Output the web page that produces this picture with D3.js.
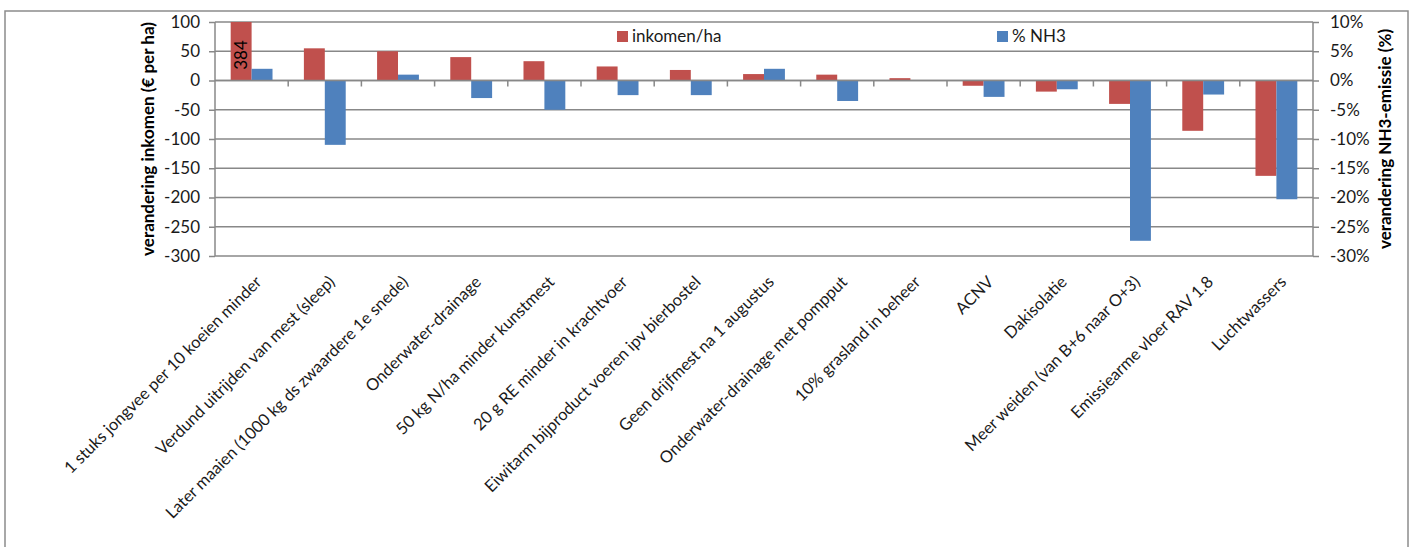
<!DOCTYPE html>
<html>
<head>
<meta charset="utf-8">
<script src="https://cdn.jsdelivr.net/npm/d3@7"></script>
<style>
  html, body { margin: 0; padding: 0; background: #fff; }
  svg { display: block; font-family: Lato, "Open Sans", sans-serif; }
</style>
</head>
<body>
<svg id="chart" width="1414" height="547"></svg>
<script>
// Maatregelen (categories on the x axis)
const categories = [
  "1 stuks jongvee per 10 koeien minder",
  "Verdund uitrijden van mest (sleep)",
  "Later maaien (1000 kg ds zwaardere 1e snede)",
  "Onderwater-drainage",
  "50 kg N/ha minder kunstmest",
  "20 g RE minder in krachtvoer",
  "Eiwitarm bijproduct voeren ipv bierbostel",
  "Geen drijfmest na 1 augustus",
  "Onderwater-drainage met pompput",
  "10% grasland in beheer",
  "ACNV",
  "Dakisolatie",
  "Meer weiden (van B+6 naar O+3)",
  "Emissiearme vloer RAV 1.8",
  "Luchtwassers"
];

// Verandering inkomen (€ per ha), left axis
const inkomen = [384, 55, 50, 40, 33, 24, 18, 11, 10, 4, -9, -19, -40, -86, -163];

// Verandering NH3-emissie (fraction), right axis
const nh3 = [0.02, -0.11, 0.01, -0.03, -0.05, -0.025, -0.025, 0.02, -0.035, 0, -0.028, -0.015, -0.274, -0.024, -0.203];

const leftTicks = [100, 50, 0, -50, -100, -150, -200, -250, -300];
const rightTicks = [0.10, 0.05, 0, -0.05, -0.10, -0.15, -0.20, -0.25, -0.30];

const seriesNames = ["inkomen/ha", "% NH3"];
const colors = ["#C0504D", "#4F81BD"];

const svg = d3.select("#chart");
const plot = { left: 215, right: 1313, top: 22, bottom: 256 };
const gridColor = "#888888";

// Outer chart frame
svg.append("rect")
  .attr("x", 5).attr("y", 11)
  .attr("width", 1403).attr("height", 560)
  .attr("fill", "none").attr("stroke", "#8c8c8c").attr("stroke-width", 1.5);

const x = d3.scaleBand().domain(categories).range([plot.left, plot.right]).padding(0);
const yL = d3.scaleLinear().domain([-300, 100]).range([plot.bottom, plot.top]).clamp(true);
const yR = d3.scaleLinear().domain([-0.30, 0.10]).range([plot.bottom, plot.top]).clamp(true);

const barW = x.bandwidth() / 3.5;

// Horizontal gridlines
svg.append("g").selectAll("line").data(leftTicks).join("line")
  .attr("x1", plot.left).attr("x2", plot.right)
  .attr("y1", d => yL(d)).attr("y2", d => yL(d))
  .attr("stroke", gridColor).attr("stroke-width", 1.5);

// Bars: inkomen
svg.append("g").selectAll("rect").data(inkomen).join("rect")
  .attr("x", (d, i) => x(categories[i]) + x.bandwidth() / 2 - barW)
  .attr("width", barW)
  .attr("y", d => Math.min(yL(d), yL(0)))
  .attr("height", d => Math.abs(yL(d) - yL(0)))
  .attr("fill", colors[0]);

// Bars: NH3
svg.append("g").selectAll("rect").data(nh3).join("rect")
  .attr("x", (d, i) => x(categories[i]) + x.bandwidth() / 2)
  .attr("width", barW)
  .attr("y", d => Math.min(yR(d), yR(0)))
  .attr("height", d => Math.abs(yR(d) - yR(0)))
  .attr("fill", colors[1]);

// Value label on the bar that runs off the top of the axis
svg.append("g").selectAll("text")
  .data(inkomen.map((v, i) => ({ v, i })).filter(d => d.v > 100))
  .join("text")
  .attr("transform", d => `translate(${x(categories[d.i]) + x.bandwidth() / 2 - barW / 2 + 6},${55}) rotate(-90)`)
  .attr("text-anchor", "middle")
  .attr("font-size", 17)
  .attr("fill", "#000")
  .text(d => d.v);

// Left axis
const axL = svg.append("g").attr("transform", `translate(${plot.left},0)`)
  .call(d3.axisLeft(yL).tickValues(leftTicks).tickSize(6).tickPadding(9).tickFormat(d3.format("d")));
// Right axis
const axR = svg.append("g").attr("transform", `translate(${plot.right},0)`)
  .call(d3.axisRight(yR).tickValues(rightTicks).tickSize(6).tickPadding(11).tickFormat(d3.format(".0%")));
[axL, axR].forEach(a => {
  a.select(".domain").attr("stroke", gridColor).attr("stroke-width", 1.5).attr("d",
    `M0,${plot.top}V${plot.bottom}`);
  a.selectAll(".tick line").attr("stroke", gridColor).attr("stroke-width", 1.5);
  a.selectAll(".tick text").attr("font-size", 17).attr("fill", "#1a1a1a")
    .attr("font-family", "Lato, 'Open Sans', sans-serif");
});
axL.selectAll(".tick text").text(d => d3.format("d")(d).replace("−", "-"));
axR.selectAll(".tick text").text(d => d3.format(".0%")(d).replace("−", "-"));

// Category axis on the zero line with boundary tick marks
const zeroY = yL(0);
svg.append("line")
  .attr("x1", plot.left).attr("x2", plot.right)
  .attr("y1", zeroY).attr("y2", zeroY)
  .attr("stroke", gridColor).attr("stroke-width", 1.5);
const boundaries = categories.slice(1).map(c => x(c));
svg.append("g").selectAll("line").data(boundaries).join("line")
  .attr("x1", d => d).attr("x2", d => d)
  .attr("y1", zeroY).attr("y2", zeroY + 6)
  .attr("stroke", gridColor).attr("stroke-width", 1.5);

// Category labels, rotated 45 degrees
svg.append("g").selectAll("text").data(categories).join("text")
  .attr("transform", d => `translate(${x(d) + x.bandwidth() / 2 + 11},${283}) rotate(-45)`)
  .attr("text-anchor", "end")
  .attr("font-size", 16.5)
  .attr("fill", "#1a1a1a")
  .text(d => d);

// Axis titles
svg.append("text")
  .attr("transform", `translate(154,${(plot.top + plot.bottom) / 2}) rotate(-90)`)
  .attr("text-anchor", "middle")
  .attr("font-size", 17).attr("font-weight", "bold").attr("fill", "#000")
  .text("verandering inkomen (€ per ha)");
svg.append("text")
  .attr("transform", `translate(1391,${(plot.top + plot.bottom) / 2}) rotate(-90)`)
  .attr("text-anchor", "middle")
  .attr("font-size", 17).attr("font-weight", "bold").attr("fill", "#000")
  .text("verandering NH3-emissie (%)");

// Legend
const legendPos = [617, 997];
const leg = svg.append("g").selectAll("g").data(seriesNames).join("g")
  .attr("transform", (d, i) => `translate(${legendPos[i]},31)`);
leg.append("rect").attr("width", 11).attr("height", 11).attr("fill", (d, i) => colors[i]);
leg.append("text").attr("x", 15).attr("y", 11).attr("font-size", 17).attr("fill", "#1a1a1a").text(d => d);
</script>
</body>
</html>
